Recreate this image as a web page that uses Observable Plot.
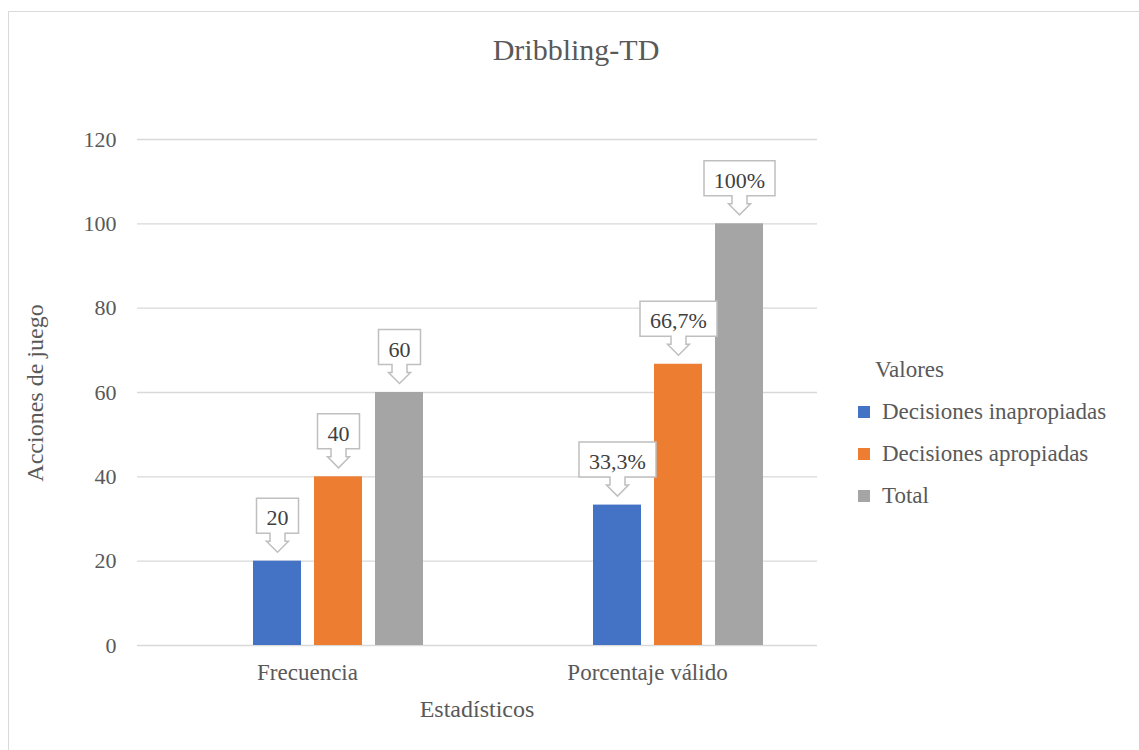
<!DOCTYPE html>
<html>
<head>
<meta charset="utf-8">
<script src="https://cdn.jsdelivr.net/npm/d3@7"></script>
<script src="https://cdn.jsdelivr.net/npm/@observablehq/plot@0.6"></script>
<style>
  html, body { margin: 0; padding: 0; background: #fff; }
  body { width: 1139px; height: 750px; overflow: hidden; position: relative; font-family: 'Liberation Serif', 'DejaVu Serif'; color: #595959; }
  #frame { position: absolute; left: 8px; top: 11px; width: 1200px; height: 800px; border: 1px solid #d9d9d9; box-sizing: border-box; }
  #chart { position: absolute; left: 0; top: 0; }
  .abs { position: absolute; white-space: nowrap; }
  #title { left: 0; width: 1152px; top: 33px; text-align: center; font-size: 30px; line-height: 34px; }
  #xtitle { left: 137px; width: 680px; top: 695px; text-align: center; font-size: 24px; line-height: 28px; }
  #ytitle { left: 35px; top: 393px; font-size: 24px; line-height: 28px; transform: translate(-50%, -50%) rotate(-90deg); }
  #legend { left: 858px; top: 356px; font-size: 23px; }
  #legend .head { position: absolute; left: 17px; top: 0; line-height: 28px; }
  #legend .item { position: absolute; left: 0; height: 28px; line-height: 28px; }
  #legend .sw { position: absolute; left: 0; top: 8px; width: 12px; height: 12px; }
  #legend .lab { position: absolute; left: 24px; top: 0; }
</style>
</head>
<body>
<div id="frame"></div>
<div id="chart"></div>
<div id="title" class="abs">Dribbling-TD</div>
<div id="xtitle" class="abs">Estadísticos</div>
<div id="ytitle" class="abs">Acciones de juego</div>
<div id="legend" class="abs"></div>
<script>
// ---- Data ----
const categories = ["Frecuencia", "Porcentaje válido"];
const seriesNames = ["Decisiones inapropiadas", "Decisiones apropiadas", "Total"];
const seriesColors = ["#4472C4", "#ED7D31", "#A5A5A5"];
const inapropiadas = [20, 33.3];
const apropiadas = [40, 66.7];
const total = [60, 100];
const inapropiadasLabels = ["20", "33,3%"];
const apropiadasLabels = ["40", "66,7%"];
const totalLabels = ["60", "100%"];
const yTicks = [0, 20, 40, 60, 80, 100, 120];
const legendTitle = "Valores";

const seriesValues = [inapropiadas, apropiadas, total];
const seriesLabels = [inapropiadasLabels, apropiadasLabels, totalLabels];

const rows = [];
categories.forEach((c, i) => {
  seriesNames.forEach((s, j) => {
    rows.push({cat: c, series: s, value: seriesValues[j][i], label: seriesLabels[j][i]});
  });
});

const FONT = "'Liberation Serif', 'DejaVu Serif'";
const LABEL_SIZE = 22;

// measure label widths
const cv = document.createElement("canvas").getContext("2d");
cv.font = `${LABEL_SIZE}px ${FONT}`;

function calloutSymbol(w) {
  const hw = w / 2;
  return {
    draw(ctx) {
      ctx.moveTo(-hw, -63);
      ctx.lineTo(hw, -63);
      ctx.lineTo(hw, -28);
      ctx.lineTo(7.5, -28);
      ctx.lineTo(7.5, -20);
      ctx.lineTo(11, -20);
      ctx.lineTo(0, -9);
      ctx.lineTo(-11, -20);
      ctx.lineTo(-7.5, -20);
      ctx.lineTo(-7.5, -28);
      ctx.lineTo(-hw, -28);
      ctx.closePath();
    }
  };
}

const calloutMarks = rows.map(d => {
  const w = Math.round(cv.measureText(d.label).width + 20);
  return Plot.dot([d], {
    fx: "cat", x: "series", y: "value",
    symbol: calloutSymbol(w), r: 5,
    fill: "#ffffff", stroke: "#bfbfbf", strokeWidth: 1.5
  });
});

const chart = Plot.plot({
  width: 1139,
  height: 750,
  marginLeft: 137,
  marginRight: 322,
  marginTop: 139,
  marginBottom: 105,
  style: { fontFamily: FONT, color: "#595959", background: "transparent", overflow: "visible" },
  fx: { domain: categories, padding: 0 },
  x: { domain: ["", ...seriesNames], paddingInner: 0.214, paddingOuter: 0.862, axis: null },
  y: { domain: [0, 120] },
  color: { domain: seriesNames, range: seriesColors },
  marks: [
    Plot.ruleY(yTicks, { stroke: "#d9d9d9", strokeWidth: 1.3 }),
    Plot.axisY(yTicks, { tickSize: 0, tickPadding: 21, fontSize: 22, label: null, fill: "#595959" }),
    Plot.axisFx({ anchor: "bottom", tickSize: 0, tickPadding: 18, fontSize: 23, label: null, fill: "#595959" }),
    Plot.barY(rows, { fx: "cat", x: "series", y: "value", fill: "series" }),
    ...calloutMarks,
    Plot.text(rows, { fx: "cat", x: "series", y: "value", text: "label", dy: -43, fontSize: LABEL_SIZE, fill: "#404040" })
  ]
});
document.getElementById("chart").appendChild(chart);

// legend
const lg = document.getElementById("legend");
const head = document.createElement("div");
head.className = "head";
head.textContent = legendTitle;
lg.appendChild(head);
seriesNames.forEach((s, i) => {
  const it = document.createElement("div");
  it.className = "item";
  it.style.top = (42 + i * 42) + "px";
  const sw = document.createElement("div");
  sw.className = "sw";
  sw.style.background = seriesColors[i];
  const lab = document.createElement("div");
  lab.className = "lab";
  lab.textContent = s;
  it.appendChild(sw); it.appendChild(lab);
  lg.appendChild(it);
});
</script>
</body>
</html>
